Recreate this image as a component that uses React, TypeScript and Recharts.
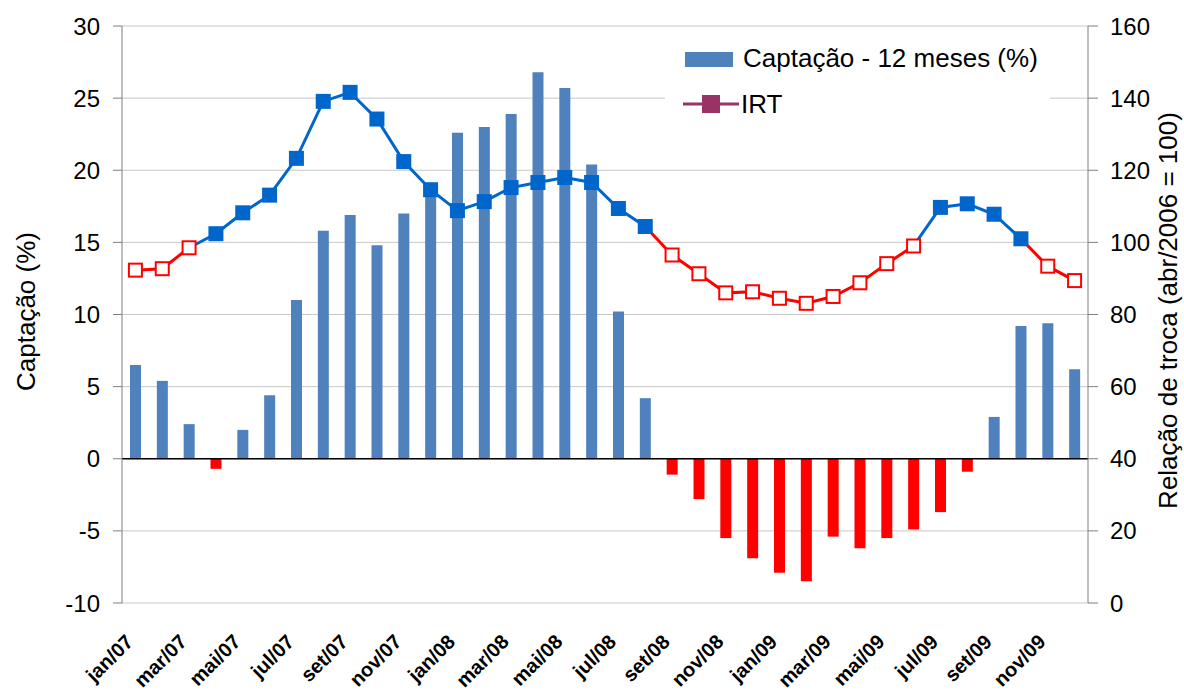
import { ComposedChart, Bar, Line, Cell, XAxis, YAxis, CartesianGrid, ReferenceLine } from 'recharts'

const meses = [
  'jan/07', 'fev/07', 'mar/07', 'abr/07', 'mai/07', 'jun/07', 'jul/07', 'ago/07', 'set/07', 'out/07', 'nov/07', 'dez/07',
  'jan/08', 'fev/08', 'mar/08', 'abr/08', 'mai/08', 'jun/08', 'jul/08', 'ago/08', 'set/08', 'out/08', 'nov/08', 'dez/08',
  'jan/09', 'fev/09', 'mar/09', 'abr/09', 'mai/09', 'jun/09', 'jul/09', 'ago/09', 'set/09', 'out/09', 'nov/09', 'dez/09',
]

// Captação - 12 meses (%)
const captacao = [
  6.5, 5.4, 2.4, -0.7, 2.0, 4.4, 11.0, 15.8, 16.9, 14.8, 17.0, 18.8,
  22.6, 23.0, 23.9, 26.8, 25.7, 20.4, 10.2, 4.2, -1.1, -2.8, -5.5, -6.9,
  -7.9, -8.5, -5.4, -6.2, -5.5, -4.9, -3.7, -0.9, 2.9, 9.2, 9.4, 6.2,
]

// IRT (abr/2006 = 100)
const irt = [
  92.3, 92.7, 98.5, 102.4, 108.2, 113.1, 123.3, 139.1, 141.6, 134.2, 122.4, 114.6,
  108.8, 111.3, 115.2, 116.6, 118.0, 116.6, 109.4, 104.4, 96.5, 91.3, 86.0, 86.3,
  84.5, 83.1, 85.0, 88.8, 94.1, 99.0, 109.7, 110.7, 107.8, 101.0, 93.4, 89.4,
]

const ticksEsq = [-10, -5, 0, 5, 10, 15, 20, 25, 30]
const ticksDir = [0, 20, 40, 60, 80, 100, 120, 140, 160]

const AZUL_BARRA = '#4F81BD'
const VERMELHO = '#FF0000'
const AZUL_LINHA = '#0066CC'
const ROXO = '#993366'
const FONTE = '"Liberation Sans", Arial, sans-serif'

const acima = (v: number) => v >= 100

// each segment takes the colour of the point it runs into
const dados = meses.map((mes, i) => {
  const prox = i + 1 < irt.length ? irt[i + 1] : null
  return {
    mes,
    captacao: captacao[i],
    irt: irt[i],
    irtAzul: acima(irt[i]) || (prox !== null && acima(prox)) ? irt[i] : null,
    irtVermelho: !acima(irt[i]) || (prox !== null && !acima(prox)) ? irt[i] : null,
  }
})

function RotuloMes(props: any) {
  const { x, y, payload } = props
  const tx = x - 1
  const ty = y + 40
  return (
    <text
      x={tx}
      y={ty}
      textAnchor='end'
      transform={`rotate(-45 ${tx} ${ty})`}
      fontSize={20}
      fontWeight='bold'
      fontFamily={FONTE}
      fill='#000'
    >
      {payload.value}
    </text>
  )
}

function Marcador(props: any) {
  const { cx, cy, payload, index } = props
  if (cx == null || cy == null) return <g key={`m-${index}`} />
  if (acima(payload.irt)) {
    return <rect key={`m-${index}`} x={cx - 7.5} y={cy - 7.5} width={15} height={15} fill={AZUL_LINHA} />
  }
  return (
    <rect
      key={`m-${index}`}
      x={cx - 6.5}
      y={cy - 6.5}
      width={13}
      height={13}
      fill='#fff'
      stroke={VERMELHO}
      strokeWidth={2}
    />
  )
}

export default function App() {
  return (
    <div style={{ position: 'relative', width: 1184, height: 691, background: '#fff', fontFamily: FONTE }}>
      <style>{'body{margin:0}'}</style>
      <ComposedChart width={1184} height={691} data={dados} margin={{ top: 26, right: 0, bottom: 0, left: 0 }}>
        <CartesianGrid yAxisId='esq' vertical={false} stroke='#c8c8c8' />
        <XAxis
          dataKey='mes'
          height={88}
          interval={1}
          axisLine={false}
          tickLine={false}
          tickSize={0}
          tickMargin={0}
          tick={<RotuloMes />}
        />
        <YAxis
          yAxisId='esq'
          width={122}
          domain={[-10, 30]}
          ticks={ticksEsq}
          axisLine={{ stroke: '#7f7f7f' }}
          tickLine={{ stroke: '#7f7f7f' }}
          tickSize={9}
          tickMargin={13}
          tick={{ fontSize: 24, fill: '#000', fontFamily: FONTE }}
          label={{
            content: ({ viewBox }: any) => {
              const lx = viewBox.x + 35
              const ly = viewBox.y + viewBox.height / 2 - 3
              return (
                <text
                  x={lx}
                  y={ly}
                  textAnchor='middle'
                  transform={`rotate(-90 ${lx} ${ly})`}
                  fontSize={26}
                  fontFamily={FONTE}
                  fill='#000'
                >
                  Captação (%)
                </text>
              )
            },
          }}
        />
        <YAxis
          yAxisId='dir'
          orientation='right'
          width={96}
          domain={[0, 160]}
          ticks={ticksDir}
          axisLine={{ stroke: '#7f7f7f' }}
          tickLine={{ stroke: '#7f7f7f' }}
          tickSize={10}
          tickMargin={12}
          tick={{ fontSize: 24, fill: '#000', fontFamily: FONTE }}
          label={{
            content: ({ viewBox }: any) => {
              const lx = viewBox.x + 89
              const ly = viewBox.y + viewBox.height / 2 - 4
              return (
                <text
                  x={lx}
                  y={ly}
                  textAnchor='middle'
                  transform={`rotate(-90 ${lx} ${ly})`}
                  fontSize={26}
                  fontFamily={FONTE}
                  fill='#000'
                >
                  Relação de troca (abr/2006 = 100)
                </text>
              )
            },
          }}
        />
        <Bar yAxisId='esq' dataKey='captacao' barSize={11} isAnimationActive={false}>
          {dados.map((d, i) => (
            <Cell key={`c-${i}`} fill={d.captacao < 0 ? VERMELHO : AZUL_BARRA} />
          ))}
        </Bar>
        <ReferenceLine yAxisId='esq' y={0} stroke='#000' strokeWidth={1.5} />
        <Line
          yAxisId='dir'
          dataKey='irtAzul'
          type='linear'
          stroke={AZUL_LINHA}
          strokeWidth={3}
          dot={false}
          activeDot={false}
          connectNulls={false}
          isAnimationActive={false}
        />
        <Line
          yAxisId='dir'
          dataKey='irtVermelho'
          type='linear'
          stroke={VERMELHO}
          strokeWidth={3}
          dot={false}
          activeDot={false}
          connectNulls={false}
          isAnimationActive={false}
        />
        <Line
          yAxisId='dir'
          dataKey='irt'
          type='linear'
          stroke='none'
          strokeWidth={0}
          dot={<Marcador />}
          activeDot={false}
          isAnimationActive={false}
        />
      </ComposedChart>

      <div
        style={{
          position: 'absolute',
          left: 665,
          top: 35,
          width: 385,
          height: 95,
          background: '#fff',
          fontSize: 26,
          color: '#000',
        }}
      >
        <div style={{ position: 'absolute', left: 20, top: 17, width: 48, height: 15, background: AZUL_BARRA }} />
        <div style={{ position: 'absolute', left: 78, top: 7, lineHeight: '32px', whiteSpace: 'nowrap' }}>
          Captação - 12 meses (%)
        </div>
        <svg style={{ position: 'absolute', left: 18, top: 57 }} width={56} height={24}>
          <line x1={0} y1={12} x2={56} y2={12} stroke={ROXO} strokeWidth={3} />
          <rect x={19} y={3} width={18} height={18} fill={ROXO} />
        </svg>
        <div style={{ position: 'absolute', left: 76, top: 53, lineHeight: '32px' }}>IRT</div>
      </div>
    </div>
  )
}
